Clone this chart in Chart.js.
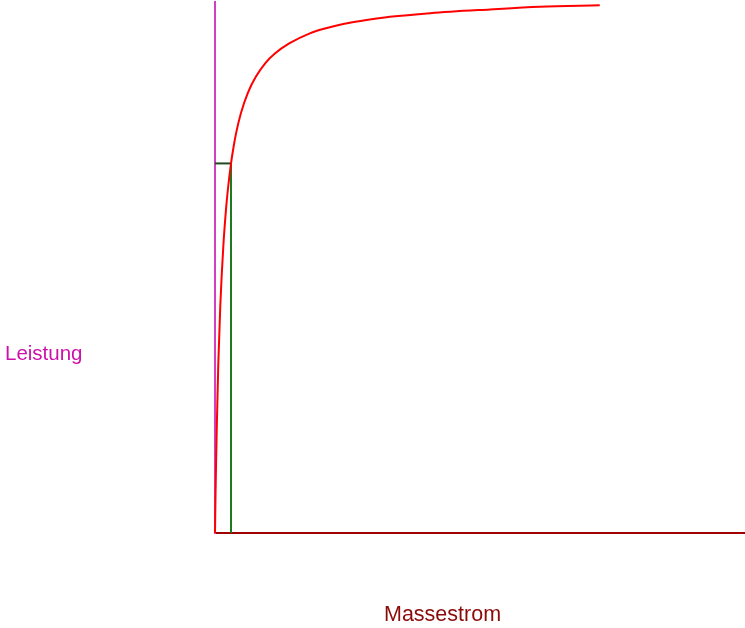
<!DOCTYPE html>
<html>
<head>
<meta charset="utf-8">
<script src="https://cdn.jsdelivr.net/npm/chart.js@4.4.1/dist/chart.umd.min.js"></script>
<style>
  html, body { margin: 0; padding: 0; background: #fff; }
  #wrap { position: relative; width: 745px; height: 628px; }
  canvas { display: block; }
  .lbl { position: absolute; font-family: "Liberation Sans", Arial, sans-serif; font-size: 20.5px; line-height: 23px; white-space: nowrap; }
</style>
</head>
<body>
<div id="wrap">
  <canvas id="chart" width="745" height="628"></canvas>
  <div class="lbl" id="yLabel" style="left:5px; top:341px; color:#cc11aa;">Leistung</div>
  <div class="lbl" id="xLabel" style="left:384px; top:603px; color:#8b0a0a; font-size:21.5px;">Massestrom</div>
</div>
<script>
// Kennlinie: Leistung über Massestrom (relative Einheiten)
const massestrom = [0, 0.1, 0.19, 0.35, 0.62, 1.0, 1.57, 2.08, 2.5, 3.02, 3.5, 4.0, 4.9, 6.2, 7.7, 9.5, 11.3, 14.0, 17.9, 21.1, 24.4, 28.0, 33.0, 40.6, 51.9, 61.3, 72.6];
const leistung   = [0, 7.2, 12.5, 20.5, 31.8, 42.8, 54.0, 61.0, 65.3, 69.6, 72.7, 75.4, 79.1, 82.9, 85.9, 88.5, 90.3, 92.2, 94.1, 95.1, 95.9, 96.5, 97.2, 97.9, 98.6, 99.1, 99.4];

// Betriebspunkt
const opX = 3.02;
const opY = 69.6;

const curve = massestrom.map((x, i) => ({ x, y: leistung[i] }));

new Chart(document.getElementById("chart"), {
  type: "scatter",
  data: {
    datasets: [
      {
        data: curve,
        showLine: true,
        borderColor: "#ff0000",
        borderWidth: 2,
        pointRadius: 0,
        cubicInterpolationMode: "monotone",
        clip: false
      },
      {
        data: [{ x: opX, y: 0 }, { x: opX, y: opY }],
        showLine: true,
        borderColor: "#1e7a1e",
        borderWidth: 2,
        pointRadius: 0,
        clip: false
      },
      {
        data: [{ x: 0, y: opY }, { x: opX, y: opY }],
        showLine: true,
        borderColor: "#1e4a1e",
        borderWidth: 2,
        pointRadius: 0,
        clip: false
      }
    ]
  },
  options: {
    responsive: false,
    devicePixelRatio: 1,
    animation: false,
    layout: { padding: { left: 207, right: 0, top: 2, bottom: 87 } },
    plugins: { legend: { display: false }, tooltip: { enabled: false } },
    scales: {
      x: {
        type: "linear",
        min: 0,
        max: 100,
        ticks: { display: false },
        grid: { display: false },
        border: { display: true, color: "#a00000", width: 2 }
      },
      y: {
        type: "linear",
        min: 0,
        max: 100,
        ticks: { display: false },
        grid: { display: false },
        border: { display: true, color: "#d040c0", width: 2 }
      }
    }
  }
});
</script>
</body>
</html>
